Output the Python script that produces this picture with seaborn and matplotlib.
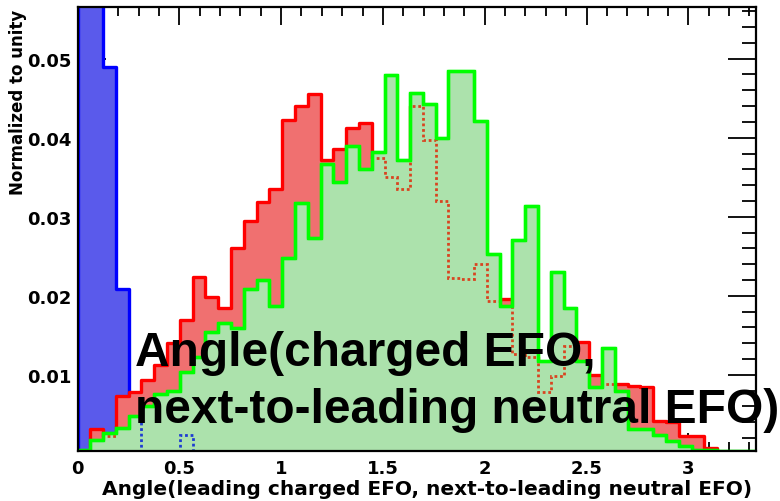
import numpy as np
import pandas as pd
import matplotlib
matplotlib.use("Agg")
import matplotlib.pyplot as plt
import seaborn as sns
from matplotlib.ticker import MultipleLocator, FuncFormatter

# Binning: 53 equal bins on [0, 3.33]
n_bins = 53
x_max = 3.33
edges = np.linspace(0.0, x_max, n_bins + 1)
centers = 0.5 * (edges[:-1] + edges[1:])

# Normalised bin contents
blue_vals = [0.075, 0.075, 0.0489, 0.0209, 0.0069, 0.0, 0.0, 0.0, 0.0024, 0.0,
             0.0, 0.0, 0.0, 0.0, 0.0, 0.0, 0.0, 0.0, 0.0, 0.0,
             0.0, 0.0, 0.0, 0.0, 0.0, 0.0, 0.0, 0.0, 0.0, 0.0,
             0.0, 0.0, 0.0, 0.0, 0.0, 0.0, 0.0, 0.0, 0.0, 0.0,
             0.0, 0.0, 0.0, 0.0, 0.0, 0.0, 0.0, 0.0, 0.0, 0.0,
             0.0, 0.0, 0.0]
red_vals = [0.0, 0.0032, 0.0022, 0.0073, 0.0078, 0.0094, 0.0113, 0.0140, 0.0169, 0.0224,
            0.0198, 0.0184, 0.0261, 0.0294, 0.0319, 0.0335, 0.0423, 0.0440, 0.0455, 0.0372,
            0.0386, 0.0412, 0.0419, 0.0374, 0.0350, 0.0335, 0.0440, 0.0397, 0.0320, 0.0223,
            0.0221, 0.0240, 0.0194, 0.0196, 0.0126, 0.0122, 0.0078, 0.0098, 0.0137, 0.0141,
            0.0100, 0.0088, 0.0089, 0.0086, 0.0084, 0.0041, 0.0040, 0.0022, 0.0022, 0.0007,
            0.0, 0.0, 0.0]
green_vals = [0.0005, 0.0017, 0.0026, 0.0033, 0.0048, 0.0061, 0.0076, 0.0080, 0.0103, 0.0122,
              0.0154, 0.0166, 0.0159, 0.0208, 0.0220, 0.0187, 0.0248, 0.0317, 0.0273, 0.0367,
              0.0344, 0.0389, 0.0361, 0.0382, 0.0479, 0.0372, 0.0457, 0.0443, 0.0399, 0.0485,
              0.0485, 0.0421, 0.0253, 0.0187, 0.0270, 0.0313, 0.0118, 0.0230, 0.0184, 0.0118,
              0.0084, 0.0134, 0.0079, 0.0032, 0.0032, 0.0024, 0.0016, 0.0010, 0.0005, 0.0005,
              0.0003, 0.0003, 0.0003]

x_ticks = [0, 0.5, 1, 1.5, 2, 2.5, 3]
y_ticks = [0.01, 0.02, 0.03, 0.04, 0.05]

df = pd.DataFrame({"angle": centers, "blue": blue_vals, "red": red_vals, "green": green_vals})

sns.set_style("ticks")
plt.rcParams["font.family"] = ["DejaVu Sans"]
plt.rcParams["font.weight"] = "bold"
for key in ["text.color", "axes.labelcolor", "xtick.color", "ytick.color", "axes.edgecolor"]:
    plt.rcParams[key] = "black"

fig = plt.figure(figsize=(7.8, 5.02), dpi=100)
ax = fig.add_axes([0.0994, 0.1002, 0.8692, 0.8833])

styles = {
    "blue": dict(facecolor="#5a5aeb", edgecolor="#0000ff"),
    "red": dict(facecolor="#f07070", edgecolor="#ff0000"),
    "green": dict(facecolor="#ace2ac", edgecolor="#00ff00"),
}
bin_list = [float(e) for e in edges]
polys = {}
for name in ["blue", "red", "green"]:
    sns.histplot(data=df, x="angle", weights=name, bins=bin_list, element="step",
                 fill=True, alpha=1, linewidth=2.4, ax=ax, **styles[name])
    polys[name] = ax.collections[-1]

# outlines of the lower histograms seen through the green fill
green_path = polys["green"].get_paths()[0]
green_tr = polys["green"].get_transform()
for vals, col in [(red_vals, "#d84420"), (blue_vals, "#1e3cd2")]:
    st = ax.stairs(vals, edges, color=col, linewidth=2.0, linestyle=(0, (1, 1)), zorder=1.5)
    st.set_clip_path(green_path, green_tr)
ax.stairs(green_vals, edges, color="#00ff00", linewidth=2.4, zorder=1.6)

ax.set_xlim(0, x_max)
ax.set_ylim(0.0004, 0.0565)
ax.set_xlabel("")
ax.set_ylabel("")
ax.set_xticks(x_ticks)
ax.set_yticks(y_ticks)
ax.xaxis.set_minor_locator(MultipleLocator(0.1))
ax.yaxis.set_minor_locator(MultipleLocator(0.002))
ax.xaxis.set_major_formatter(FuncFormatter(lambda v, p: f"{v:g}"))
ax.yaxis.set_major_formatter(FuncFormatter(lambda v, p: f"{v:.2f}"))
ax.tick_params(which="both", direction="in", top=True, right=True, width=1.3,
               labelsize=13, colors="black")
ax.tick_params(axis="x", which="major", length=13, pad=6)
ax.tick_params(axis="x", which="minor", length=6.5)
ax.tick_params(axis="y", which="major", length=20, pad=4)
ax.tick_params(axis="y", which="minor", length=10)
for lab in ax.get_xticklabels() + ax.get_yticklabels():
    lab.set_fontweight("bold")
for sp in ax.spines.values():
    sp.set_linewidth(1.6)
    sp.set_color("black")

fig.text(18 / 780, 1 - 10 / 502, "Normalized to unity", rotation=90,
         ha="center", va="top", fontsize=12, fontweight="bold")
fig.text(752 / 780, (502 - 495) / 502,
         "Angle(leading charged EFO, next-to-leading neutral EFO)",
         ha="right", va="baseline", fontsize=14.5, fontweight="bold")
big = dict(ha="left", va="baseline", fontsize=34.5, fontweight="bold",
           family=["Liberation Sans", "DejaVu Sans"], color="black")
fig.text(135 / 780, (502 - 366) / 502, "Angle(charged EFO,", **big)
fig.text(135 / 780, (502 - 423) / 502, "next-to-leading neutral EFO)", **big)

fig.savefig("out.png", dpi=100)
